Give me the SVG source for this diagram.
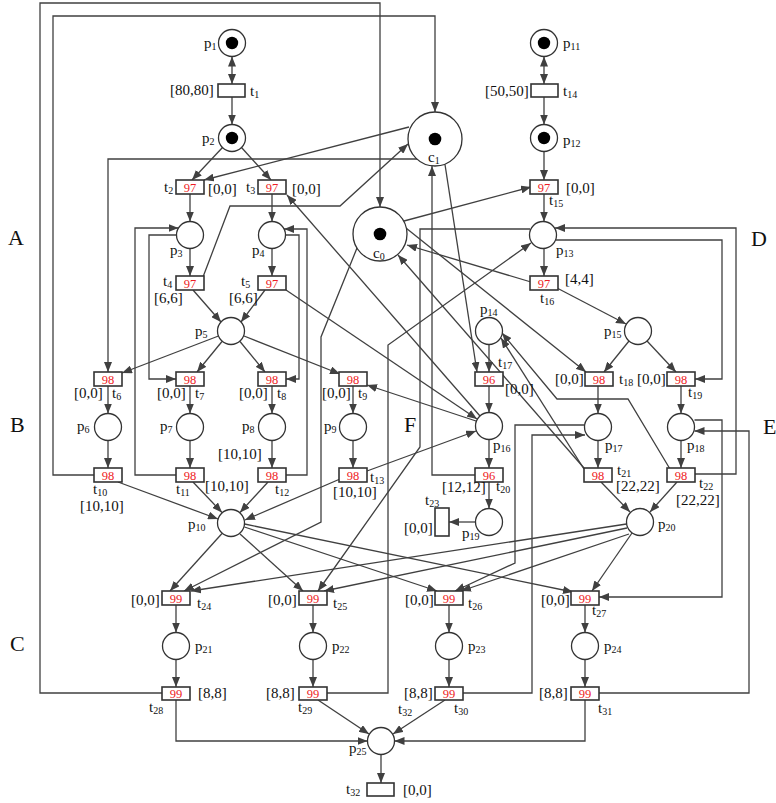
<svg xmlns="http://www.w3.org/2000/svg" width="776" height="803" viewBox="0 0 776 803">
<defs>
<marker id="ar" viewBox="0 0 10 8" refX="10" refY="4" markerWidth="10" markerHeight="8" orient="auto" markerUnits="userSpaceOnUse"><path d="M0,0L10,4L0,8z" fill="#404040"/></marker>
<marker id="as" viewBox="0 0 10 8" refX="10" refY="4" markerWidth="10" markerHeight="8" orient="auto-start-reverse" markerUnits="userSpaceOnUse"><path d="M0,0L10,4L0,8z" fill="#404040"/></marker>
</defs>
<style>
.c{fill:none;stroke:#404040;stroke-width:1.3;marker-end:url(#ar)}
.d{fill:none;stroke:#404040;stroke-width:1.3;marker-end:url(#as);marker-start:url(#as)}
.pl{fill:#fff;stroke:#333;stroke-width:1.3}
.tk{fill:#000}
.tr{fill:#fff;stroke:#333;stroke-width:1.6}
text{font-family:"Liberation Serif","Times New Roman",serif;font-size:15px;fill:#111}
.s{font-size:10px}
.nm{font-size:12.5px;fill:#ee1c25;text-anchor:middle}
.big{font-size:22px}
</style>
<rect width="776" height="803" fill="#fff"/>
<g id="arcs">
<path class="d" d="M232,56.5V84"/>
<path class="c" d="M232,97V124.5"/>
<path class="d" d="M544,56.5V84"/>
<path class="c" d="M544,97V124.5"/>
<path class="c" d="M544,151.5V180"/>
<path class="c" d="M544,194V221.5"/>
<path class="c" d="M544,248.5V276"/>
<path class="c" d="M222.5,147.5L192,180"/>
<path class="c" d="M241.5,147.5L271,180"/>
<path class="c" d="M409,127L204,180"/>
<path class="c" d="M417,159H108V372"/>
<path class="c" d="M190,194V221.5"/>
<path class="c" d="M272,194V221.5"/>
<path class="c" d="M190,248.5V276"/>
<path class="c" d="M272,248.5V276"/>
<path class="c" d="M203,277L230,206H340L408,144"/>
<path class="c" d="M193,290L221,322"/>
<path class="c" d="M265,290L241,322"/>
<path class="c" d="M286,290L477,419"/>
<path class="c" d="M480,416L287,195"/>
<path class="c" d="M218.5,336L122,373"/>
<path class="c" d="M222,341.5L197,372"/>
<path class="c" d="M240,341.5L265,372"/>
<path class="c" d="M244,336L340,374"/>
<path class="c" d="M176.5,235H149V379H176"/>
<path class="c" d="M176,475H135V228H178.5"/>
<path class="c" d="M285.5,235H299V379H286"/>
<path class="c" d="M286,475H307V229H284"/>
<path class="c" d="M108,386V413.5"/>
<path class="c" d="M108,440.5V468"/>
<path class="c" d="M190,386V413.5"/>
<path class="c" d="M190,440.5V468"/>
<path class="c" d="M272,386V413.5"/>
<path class="c" d="M272,440.5V468"/>
<path class="c" d="M353,386V413.5"/>
<path class="c" d="M353,440.5V468"/>
<path class="c" d="M94,475H53V16H435V112"/>
<path class="c" d="M162,693H40V3H380V207"/>
<path class="c" d="M118,482L218,519"/>
<path class="c" d="M193,482L222,512.5"/>
<path class="c" d="M268,482L240,512.5"/>
<path class="c" d="M340,479L245,520"/>
<path class="c" d="M367,471L476,431"/>
<path class="c" d="M476,421L367,385"/>
<path class="c" d="M584,468L398,255"/>
<path class="c" d="M404,221L531,187"/>
<path class="c" d="M531,282L407,245"/>
<path class="c" d="M406,228L586,372"/>
<path class="c" d="M445,164.5L477,372"/>
<path class="c" d="M476,475H432V166"/>
<path class="c" d="M530,229H420V447L318,591"/>
<path class="c" d="M695,474H736V228H555"/>
<path class="c" d="M556,240H722V379H695"/>
<path class="c" d="M327,693H388V345L531,243"/>
<path class="c" d="M489,344.5V372"/>
<path class="c" d="M489,386V412.5"/>
<path class="c" d="M489,439.5V468"/>
<path class="c" d="M489,482V508.5"/>
<path class="c" d="M475.5,522H449"/>
<path class="c" d="M557,288L626,324"/>
<path class="c" d="M629,341L604,372"/>
<path class="c" d="M647,341L676,372"/>
<path class="c" d="M598,386V413.5"/>
<path class="c" d="M681,386V413.5"/>
<path class="c" d="M598,440.5V468"/>
<path class="c" d="M681,440.5V468"/>
<path class="c" d="M601,482L630,512"/>
<path class="c" d="M677,482L650,512"/>
<path class="c" d="M584.5,425H515V563L455,591"/>
<path class="c" d="M463,693H532V435H585"/>
<path class="c" d="M694.5,420H722V597H599"/>
<path class="c" d="M599,693H749V431H694.5"/>
<path class="c" d="M222,533.5L170,591"/>
<path class="c" d="M357,248L321,337V522L184,591"/>
<path class="c" d="M626.5,524L191,591"/>
<path class="c" d="M240,534L303,591"/>
<path class="c" d="M627,528L324,591"/>
<path class="c" d="M244.5,527L437,591"/>
<path class="c" d="M629,534L461,591"/>
<path class="c" d="M244.5,524L573,592"/>
<path class="c" d="M632,533L592,591"/>
<path class="c" d="M176,605V632.5"/>
<path class="c" d="M176,659.5V687"/>
<path class="c" d="M313,605V632.5"/>
<path class="c" d="M313,659.5V687"/>
<path class="c" d="M449,605V632.5"/>
<path class="c" d="M449,659.5V687"/>
<path class="c" d="M585,605V632.5"/>
<path class="c" d="M585,659.5V687"/>
<path class="c" d="M176,700V741H367.5"/>
<path class="c" d="M585,700V741H394.5"/>
<path class="c" d="M318,700L369,734"/>
<path class="c" d="M445,700L393,734"/>
<path class="c" d="M381,754.5V783"/>
<path class="c" d="M584,469L501,338"/>
<path class="c" d="M670,469L628,399H557L502,333"/>
</g>
<g id="p1"><circle class="pl" cx="232" cy="43" r="13.5"/><circle class="tk" cx="232" cy="43" r="6.2"/><text x="204" y="48">p<tspan class="s" dy="2">1</tspan></text></g>
<g id="p2"><circle class="pl" cx="232" cy="138" r="13.5"/><circle class="tk" cx="232" cy="138" r="6.2"/><text x="202" y="143">p<tspan class="s" dy="2">2</tspan></text></g>
<g id="p3"><circle class="pl" cx="190" cy="235" r="13.5"/><text x="170" y="255">p<tspan class="s" dy="2">3</tspan></text></g>
<g id="p4"><circle class="pl" cx="272" cy="235" r="13.5"/><text x="252" y="255">p<tspan class="s" dy="2">4</tspan></text></g>
<g id="p5"><circle class="pl" cx="231" cy="331" r="13.5"/><text x="195" y="336">p<tspan class="s" dy="2">5</tspan></text></g>
<g id="p6"><circle class="pl" cx="108" cy="427" r="13.5"/><text x="77" y="431">p<tspan class="s" dy="2">6</tspan></text></g>
<g id="p7"><circle class="pl" cx="190" cy="427" r="13.5"/><text x="160" y="431">p<tspan class="s" dy="2">7</tspan></text></g>
<g id="p8"><circle class="pl" cx="272" cy="427" r="13.5"/><text x="242" y="431">p<tspan class="s" dy="2">8</tspan></text></g>
<g id="p9"><circle class="pl" cx="353" cy="427" r="13.5"/><text x="324" y="431">p<tspan class="s" dy="2">9</tspan></text></g>
<g id="p10"><circle class="pl" cx="231" cy="523" r="13.5"/><text x="188" y="529">p<tspan class="s" dy="2">10</tspan></text></g>
<g id="p11"><circle class="pl" cx="544" cy="43" r="13.5"/><circle class="tk" cx="544" cy="43" r="6.2"/><text x="563" y="48">p<tspan class="s" dy="2">11</tspan></text></g>
<g id="p12"><circle class="pl" cx="544" cy="138" r="13.5"/><circle class="tk" cx="544" cy="138" r="6.2"/><text x="563" y="145">p<tspan class="s" dy="2">12</tspan></text></g>
<g id="p13"><circle class="pl" cx="543" cy="235" r="13.5"/><text x="556" y="255">p<tspan class="s" dy="2">13</tspan></text></g>
<g id="p14"><circle class="pl" cx="489" cy="331" r="13.5"/><text x="480" y="314">p<tspan class="s" dy="2">14</tspan></text></g>
<g id="p15"><circle class="pl" cx="638" cy="331" r="13.5"/><text x="604" y="336">p<tspan class="s" dy="2">15</tspan></text></g>
<g id="p16"><circle class="pl" cx="489" cy="426" r="13.5"/><text x="493" y="450">p<tspan class="s" dy="2">16</tspan></text></g>
<g id="p17"><circle class="pl" cx="598" cy="427" r="13.5"/><text x="605" y="450">p<tspan class="s" dy="2">17</tspan></text></g>
<g id="p18"><circle class="pl" cx="681" cy="427" r="13.5"/><text x="687" y="450">p<tspan class="s" dy="2">18</tspan></text></g>
<g id="p19"><circle class="pl" cx="489" cy="522" r="13.5"/><text x="462" y="538">p<tspan class="s" dy="2">19</tspan></text></g>
<g id="p20"><circle class="pl" cx="640" cy="522" r="13.5"/><text x="658" y="529">p<tspan class="s" dy="2">20</tspan></text></g>
<g id="p21"><circle class="pl" cx="176" cy="646" r="13.5"/><text x="195" y="651">p<tspan class="s" dy="2">21</tspan></text></g>
<g id="p22"><circle class="pl" cx="313" cy="646" r="13.5"/><text x="332" y="651">p<tspan class="s" dy="2">22</tspan></text></g>
<g id="p23"><circle class="pl" cx="449" cy="646" r="13.5"/><text x="468" y="651">p<tspan class="s" dy="2">23</tspan></text></g>
<g id="p24"><circle class="pl" cx="585" cy="646" r="13.5"/><text x="604" y="651">p<tspan class="s" dy="2">24</tspan></text></g>
<g id="p25"><circle class="pl" cx="381" cy="741" r="13.5"/><text x="349" y="753">p<tspan class="s" dy="2">25</tspan></text></g>
<g id="c0"><circle class="pl" cx="380" cy="234" r="27"/><circle class="tk" cx="380" cy="234" r="6.3"/><text x="373" y="258">c<tspan class="s" dy="2">0</tspan></text></g>
<g id="c1"><circle class="pl" cx="435" cy="139" r="27"/><circle class="tk" cx="435" cy="139" r="6.3"/><text x="428" y="162">c<tspan class="s" dy="2">1</tspan></text></g>
<g id="t1"><rect class="tr" x="218" y="84" width="27" height="13"/><text x="170" y="95">[80,80]</text><text x="250" y="96">t<tspan class="s" dy="2">1</tspan></text></g>
<g id="t2"><rect class="tr" x="176" y="180" width="28" height="14"/><text class="nm" x="190" y="192">97</text><text x="164" y="192">t<tspan class="s" dy="2">2</tspan></text><text x="208" y="194">[0,0]</text></g>
<g id="t3"><rect class="tr" x="258" y="180" width="28" height="14"/><text class="nm" x="272" y="192">97</text><text x="246" y="192">t<tspan class="s" dy="2">3</tspan></text><text x="292" y="194">[0,0]</text></g>
<g id="t4"><rect class="tr" x="176" y="276" width="28" height="14"/><text class="nm" x="190" y="288">97</text><text x="163" y="286">t<tspan class="s" dy="2">4</tspan></text><text x="154" y="303">[6,6]</text></g>
<g id="t5"><rect class="tr" x="258" y="276" width="28" height="14"/><text class="nm" x="272" y="288">97</text><text x="241" y="286">t<tspan class="s" dy="2">5</tspan></text><text x="229" y="303">[6,6]</text></g>
<g id="t6"><rect class="tr" x="94" y="372" width="28" height="14"/><text class="nm" x="108" y="384">98</text><text x="74" y="398">[0,0]</text><text x="112" y="398">t<tspan class="s" dy="2">6</tspan></text></g>
<g id="t7"><rect class="tr" x="176" y="372" width="28" height="14"/><text class="nm" x="190" y="384">98</text><text x="157" y="398">[0,0]</text><text x="195" y="398">t<tspan class="s" dy="2">7</tspan></text></g>
<g id="t8"><rect class="tr" x="258" y="372" width="28" height="14"/><text class="nm" x="272" y="384">98</text><text x="239" y="398">[0,0]</text><text x="277" y="398">t<tspan class="s" dy="2">8</tspan></text></g>
<g id="t9"><rect class="tr" x="339" y="372" width="28" height="14"/><text class="nm" x="353" y="384">98</text><text x="322" y="398">[0,0]</text><text x="358" y="398">t<tspan class="s" dy="2">9</tspan></text></g>
<g id="t10"><rect class="tr" x="94" y="468" width="28" height="14"/><text class="nm" x="108" y="480">98</text><text x="93" y="494">t<tspan class="s" dy="2">10</tspan></text><text x="80" y="511">[10,10]</text></g>
<g id="t11"><rect class="tr" x="176" y="468" width="28" height="14"/><text class="nm" x="190" y="480">98</text><text x="176" y="494">t<tspan class="s" dy="2">11</tspan></text><text x="205" y="491">[10,10]</text></g>
<g id="t12"><rect class="tr" x="258" y="468" width="28" height="14"/><text class="nm" x="272" y="480">98</text><text x="275" y="494">t<tspan class="s" dy="2">12</tspan></text><text x="218" y="459">[10,10]</text></g>
<g id="t13"><rect class="tr" x="339" y="468" width="28" height="14"/><text class="nm" x="353" y="480">98</text><text x="370" y="482">t<tspan class="s" dy="2">13</tspan></text><text x="333" y="497">[10,10]</text></g>
<g id="t14"><rect class="tr" x="531" y="84" width="27" height="13"/><text x="485" y="96">[50,50]</text><text x="563" y="96">t<tspan class="s" dy="2">14</tspan></text></g>
<g id="t15"><rect class="tr" x="530" y="180" width="28" height="14"/><text class="nm" x="544" y="192">97</text><text x="566" y="193">[0,0]</text><text x="549" y="205">t<tspan class="s" dy="2">15</tspan></text></g>
<g id="t16"><rect class="tr" x="530" y="276" width="28" height="14"/><text class="nm" x="544" y="288">97</text><text x="565" y="284">[4,4]</text><text x="540" y="303">t<tspan class="s" dy="2">16</tspan></text></g>
<g id="t17"><rect class="tr" x="475" y="372" width="28" height="14"/><text class="nm" x="489" y="384">96</text><text x="498" y="367">t<tspan class="s" dy="2">17</tspan></text><text x="505" y="394">[0,0]</text></g>
<g id="t18"><rect class="tr" x="585" y="372" width="28" height="14"/><text class="nm" x="599" y="384">98</text><text x="555" y="384">[0,0]</text><text x="619" y="384">t<tspan class="s" dy="2">18</tspan></text></g>
<g id="t19"><rect class="tr" x="667" y="372" width="28" height="14"/><text class="nm" x="681" y="384">98</text><text x="637" y="384">[0,0]</text><text x="688" y="397">t<tspan class="s" dy="2">19</tspan></text></g>
<g id="t20"><rect class="tr" x="475" y="468" width="28" height="14"/><text class="nm" x="489" y="480">96</text><text x="442" y="492">[12,12]</text><text x="496" y="491">t<tspan class="s" dy="2">20</tspan></text></g>
<g id="t21"><rect class="tr" x="584" y="468" width="28" height="14"/><text class="nm" x="598" y="480">98</text><text x="617" y="475">t<tspan class="s" dy="2">21</tspan></text><text x="616" y="491">[22,22]</text></g>
<g id="t22"><rect class="tr" x="667" y="468" width="28" height="14"/><text class="nm" x="681" y="480">98</text><text x="699" y="488">t<tspan class="s" dy="2">22</tspan></text><text x="676" y="505">[22,22]</text></g>
<g id="t23"><rect class="tr" x="435" y="508" width="14" height="28"/><text x="425" y="505">t<tspan class="s" dy="2">23</tspan></text><text x="404" y="533">[0,0]</text></g>
<g id="t24"><rect class="tr" x="162" y="591" width="28" height="14"/><text class="nm" x="176" y="603">99</text><text x="131" y="605">[0,0]</text><text x="197" y="608">t<tspan class="s" dy="2">24</tspan></text></g>
<g id="t25"><rect class="tr" x="299" y="591" width="28" height="14"/><text class="nm" x="313" y="603">99</text><text x="268" y="605">[0,0]</text><text x="333" y="608">t<tspan class="s" dy="2">25</tspan></text></g>
<g id="t26"><rect class="tr" x="435" y="591" width="28" height="14"/><text class="nm" x="449" y="603">99</text><text x="405" y="605">[0,0]</text><text x="468" y="608">t<tspan class="s" dy="2">26</tspan></text></g>
<g id="t27"><rect class="tr" x="571" y="591" width="28" height="14"/><text class="nm" x="585" y="603">99</text><text x="541" y="605">[0,0]</text><text x="592" y="615">t<tspan class="s" dy="2">27</tspan></text></g>
<g id="t28"><rect class="tr" x="162" y="687" width="28" height="13"/><text class="nm" x="176" y="698">99</text><text x="198" y="698">[8,8]</text><text x="149" y="712">t<tspan class="s" dy="2">28</tspan></text></g>
<g id="t29"><rect class="tr" x="299" y="687" width="28" height="13"/><text class="nm" x="313" y="698">99</text><text x="266" y="698">[8,8]</text><text x="298" y="712">t<tspan class="s" dy="2">29</tspan></text></g>
<g id="t30"><rect class="tr" x="435" y="687" width="28" height="13"/><text class="nm" x="449" y="698">99</text><text x="404" y="698">[8,8]</text><text x="454" y="713">t<tspan class="s" dy="2">30</tspan></text></g>
<g id="t31"><rect class="tr" x="571" y="687" width="28" height="13"/><text class="nm" x="585" y="698">99</text><text x="539" y="698">[8,8]</text><text x="598" y="713">t<tspan class="s" dy="2">31</tspan></text></g>
<g id="t32"><rect class="tr" x="367" y="783" width="27" height="13"/><text x="346" y="794">t<tspan class="s" dy="2">32</tspan></text><text x="403" y="795">[0,0]</text><text x="398" y="714">t<tspan class="s" dy="2">32</tspan></text></g>
<g id="regions"><text class="big" x="8" y="245">A</text><text class="big" x="10" y="432">B</text><text class="big" x="10" y="651">C</text><text class="big" x="751" y="246">D</text><text class="big" x="763" y="434">E</text><text class="big" x="404" y="432">F</text></g>
</svg>
